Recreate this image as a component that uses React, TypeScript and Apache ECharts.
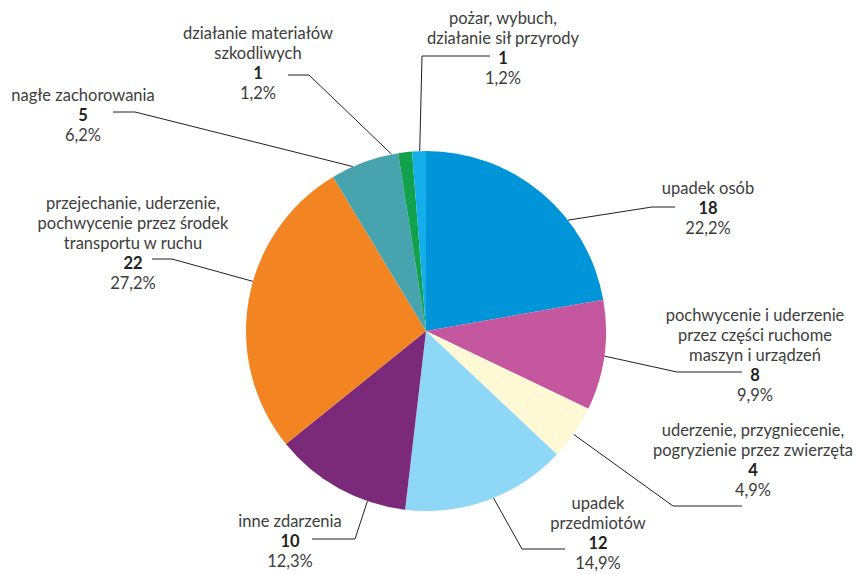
import React, { useEffect, useRef } from "react";
import * as echarts from "echarts";

const categories = [
  "upadek osób",
  "pochwycenie i uderzenie\nprzez części ruchome\nmaszyn i urządzeń",
  "uderzenie, przygniecenie,\npogryzienie przez zwierzęta",
  "upadek\nprzedmiotów",
  "inne zdarzenia",
  "przejechanie, uderzenie,\npochwycenie przez środek\ntransportu w ruchu",
  "nagłe zachorowania",
  "działanie materiałów\nszkodliwych",
  "pożar, wybuch,\ndziałanie sił przyrody",
];
const values = [18, 8, 4, 12, 10, 22, 5, 1, 1];
const percents = [22.2, 9.9, 4.9, 14.9, 12.3, 27.2, 6.2, 1.2, 1.2];

const colors = [
  "#0095D8",
  "#C5579F",
  "#FFF9D6",
  "#8ED7F6",
  "#7B2A7A",
  "#F28522",
  "#47A4AE",
  "#12A24E",
  "#14AEEA",
];

// label layout (positions only): [centerX, topY], leader anchor angle, elbow, end
const CX = 426;
const CY = 331;
const R = 180;
const labelPos = [
  [708, 178],
  [755, 305],
  [753, 420],
  [598, 493],
  [290, 511],
  [133, 193],
  [83, 85],
  [258, 23],
  [503, 8],
];
const anchorAngle = [38, -8, -35, -68, -109, 164, 114, 101, 92];
const elbows = [
  [[652, 207], [675, 207]],
  [[677, 372], [742, 372]],
  [[673, 506], [742, 506]],
  [[522, 549], [565, 549]],
  [[355, 539], [312, 539]],
  [[172, 259], [152, 259]],
  [[135, 112], [113, 112]],
  [[309, 75], [288, 75]],
  [[422, 56], [490, 56]],
];

export default function App() {
  const ref = useRef<HTMLDivElement>(null);
  useEffect(() => {
    const chart = echarts.init(ref.current!, undefined, { renderer: "svg" });
    const font = "Lato, 'Noto Sans', sans-serif";
    const fs = 16.5;
    const lh = 20;
    chart.setOption({
      animation: false,
      backgroundColor: "#ffffff",
      series: [
        {
          type: "pie",
          center: [CX, CY],
          radius: R,
          startAngle: 90,
          clockwise: true,
          avoidLabelOverlap: false,
          data: values.map((v, i) => ({
            name: categories[i],
            value: v,
            itemStyle: { color: colors[i] },
          })),
          label: {
            show: true,
            position: "outside",
            align: "center",
            formatter: (p: any) =>
              `{n|${p.name}}\n{v|${p.value}}\n{p|${percents[p.dataIndex]
                .toFixed(1)
                .replace(".", ",")}%}`,
            rich: {
              n: { fontFamily: font, fontSize: fs, color: "#3d3d3d", lineHeight: lh, align: "center" },
              v: { fontFamily: font, fontSize: fs, fontWeight: "bold", color: "#231F20", lineHeight: lh, align: "center" },
              p: { fontFamily: font, fontSize: fs, color: "#3d3d3d", lineHeight: lh, align: "center" },
            },
          },
          labelLine: {
            show: true,
            lineStyle: { color: "#231F20", width: 1 },
          },
          labelLayout: (params: any) => {
            const i = params.dataIndex;
            const a = (anchorAngle[i] * Math.PI) / 180;
            const start = [CX + R * Math.cos(a), CY - R * Math.sin(a)];
            return {
              x: labelPos[i][0],
              y: labelPos[i][1],
              align: "center",
              verticalAlign: "top",
              labelLinePoints: [start, elbows[i][0], elbows[i][1]],
            };
          },
        },
      ],
    });
    return () => chart.dispose();
  }, []);
  return (
    <div
      ref={ref}
      style={{ position: "fixed", left: 0, top: 0, width: 860, height: 574 }}
    />
  );
}
